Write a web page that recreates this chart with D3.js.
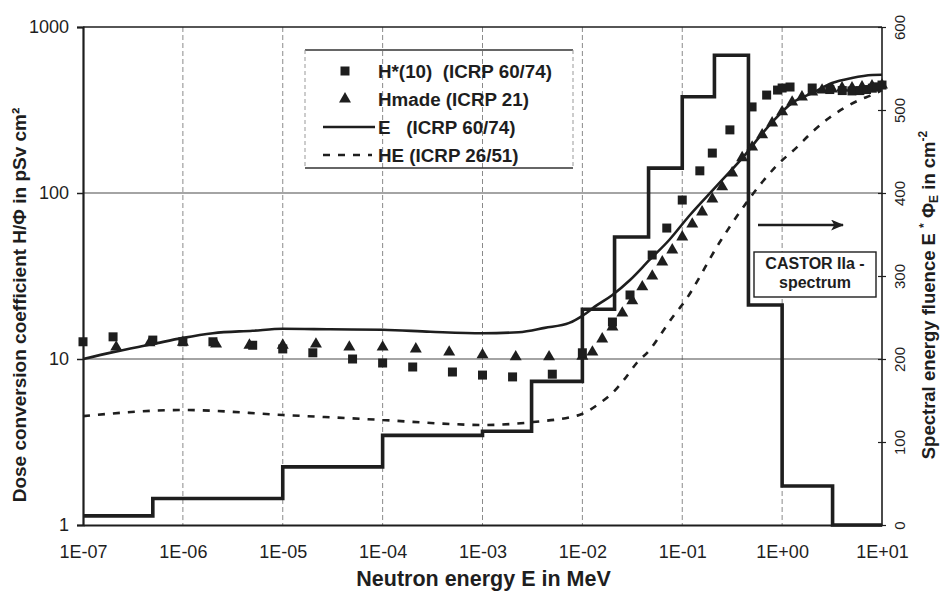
<!DOCTYPE html>
<html>
<head>
<meta charset="utf-8">
<script src="https://cdn.jsdelivr.net/npm/d3@7"></script>
<style>
  html, body { margin: 0; padding: 0; background: #fff; }
  svg { display: block; font-family: "Liberation Sans", Arial, Helvetica, sans-serif; }
</style>
</head>
<body>
<svg id="chart" width="944" height="593"></svg>
<script>
// ---------------- DATA ----------------
const xTickValues = [1e-7, 1e-6, 1e-5, 1e-4, 1e-3, 1e-2, 1e-1, 1, 10];
const xTickLabels = ["1E-07", "1E-06", "1E-05", "1E-04", "1E-03", "1E-02", "1E-01", "1E+00", "1E+01"];
const yLeftTicks = [1, 10, 100, 1000];
const yRightTicks = [0, 100, 200, 300, 400, 500, 600];

// H*(10) (ICRP 60/74) – squares
const hStarE = [1e-7, 2e-7, 5e-7, 1e-6, 2e-6, 5e-6, 1e-5, 2e-5, 5e-5, 1e-4, 2e-4, 5e-4, 1e-3, 2e-3, 5e-3, 1e-2,
                2e-2, 3e-2, 5e-2, 7e-2, 0.1, 0.15, 0.2, 0.3, 0.5, 0.7, 0.9, 1, 1.2, 2, 3, 4, 5, 6, 7, 8, 9, 10];
const hStarV = [12.7, 13.6, 13.0, 12.7, 12.7, 12.1, 11.5, 10.9, 10.0, 9.46, 8.95, 8.35, 8.0, 7.8, 8.1, 10.9,
                16.7, 24.3, 42.3, 61.5, 90.7, 136, 174, 240, 330, 389, 417, 429, 435, 429, 420, 414, 412, 414, 420, 428, 436, 447];

// Hmade (ICRP 21) – triangles
const hmadeE = [2.15e-7, 4.64e-7, 1e-6, 2.15e-6, 4.64e-6, 1e-5, 2.15e-5, 4.64e-5, 1e-4, 2.15e-4, 4.64e-4, 1e-3, 2.15e-3, 4.64e-3,
                1e-2, 1.26e-2, 1.58e-2, 2e-2, 2.51e-2, 3.16e-2, 3.98e-2, 5.01e-2, 6.31e-2, 7.94e-2,
                0.1, 0.126, 0.158, 0.2, 0.251, 0.316, 0.398, 0.501, 0.631, 0.794,
                1, 1.26, 1.58, 2, 2.51, 3.16, 3.98, 5.01, 6.31, 7.94, 10];
const hmadeV = [11.8, 12.5, 12.6, 12.3, 12.1, 12.1, 12.3, 11.8, 11.8, 11.5, 11.0, 10.6, 10.3, 10.3,
                10.4, 11.0, 13.2, 15.6, 18.9, 22.4, 27.2, 31.6, 38.4, 45.4,
                54.3, 65.0, 76.9, 92.0, 109, 132, 163, 189, 224, 264,
                308, 353, 379, 406, 417, 423, 429, 429, 435, 441, 447];

// E (ICRP 60/74) – solid line
const effE = [1e-7, 2e-7, 5e-7, 1e-6, 2e-6, 5e-6, 1e-5, 3e-5, 1e-4, 3e-4, 1e-3, 2.3e-3, 4.2e-3, 7.4e-3, 1e-2,
              1.4e-2, 2e-2, 3e-2, 4.7e-2, 7.4e-2, 0.117, 0.22, 0.44, 0.59, 0.83, 1.26, 2, 3.16, 5, 8, 10];
const effV = [10, 11.0, 12.3, 13.4, 14.3, 14.8, 15.2, 15.1, 15.0, 14.6, 14.3, 14.5, 15.4, 16.5, 18.2,
              21.1, 24.3, 29.9, 39.5, 52.1, 72.7, 110, 174, 217, 275, 349, 400, 460, 493, 514, 516];

// HE (ICRP 26/51) – dashed line
const heE = [1e-7, 1e-6, 1e-5, 1e-4, 4.7e-4, 1e-3, 3.2e-3, 9.3e-3, 1.5e-2, 2e-2, 2.6e-2, 3.5e-2, 4.7e-2, 6.3e-2, 8.3e-2,
             0.1, 0.245, 0.39, 0.63, 0.89, 1.41, 2.0, 2.95, 4.17, 5.9, 7.9, 10];
const heV = [4.53, 4.93, 4.6, 4.29, 4.06, 4.0, 4.17, 4.6, 5.43, 6.24, 7.47, 9.46, 11.3, 14.5, 18.4,
             21.2, 52.1, 79, 116, 147, 189, 233, 283, 325, 363, 389, 417];

// CASTOR IIa spectrum – histogram (right axis)
const binEdges = [1e-7, 5e-7, 1e-5, 1e-4, 1e-3, 3.1e-3, 1e-2, 2.1e-2, 4.6e-2, 0.1, 0.21, 0.46, 1, 3.2, 10];
const binValues = [11, 32, 70, 108, 113, 173, 260, 347, 430, 516, 566, 265, 47, 0];

// ---------------- CHART ----------------
const svg = d3.select("#chart");
const L = 83, R = 882, T = 27, B = 525;

const x = d3.scaleLog().domain([1e-7, 10]).range([L, R]);
const yL = d3.scaleLog().domain([1, 1000]).range([B, T]);
const yR = d3.scaleLinear().domain([0, 600]).range([B, T]);

const ink = "#1e1e1e";

// vertical dashed gridlines
svg.append("g").selectAll("line")
  .data(xTickValues.slice(1, -1))
  .join("line")
  .attr("x1", d => x(d)).attr("x2", d => x(d))
  .attr("y1", T).attr("y2", B)
  .attr("stroke", "#8a8a8a").attr("stroke-width", 1)
  .attr("stroke-dasharray", "5,3");

// horizontal gridlines
svg.append("g").selectAll("line")
  .data([10, 100])
  .join("line")
  .attr("x1", L).attr("x2", R)
  .attr("y1", d => yL(d)).attr("y2", d => yL(d))
  .attr("stroke", "#4a4a4a").attr("stroke-width", 1.2);

// frame
svg.append("line").attr("x1", L).attr("x2", R).attr("y1", T).attr("y2", T).attr("stroke", ink).attr("stroke-width", 1.6);
svg.append("line").attr("x1", R).attr("x2", R).attr("y1", T).attr("y2", B).attr("stroke", ink).attr("stroke-width", 1.6);

// histogram
const histPts = binValues.map((v, i) => [binEdges[i], v]);
histPts.push([binEdges[binEdges.length - 1], binValues[binValues.length - 1]]);
svg.append("path")
  .datum(histPts)
  .attr("fill", "none").attr("stroke", ink).attr("stroke-width", 3.6)
  .attr("stroke-linejoin", "miter")
  .attr("d", d3.line().x(d => x(d[0])).y(d => yR(d[1])).curve(d3.curveStepAfter));

// HE dashed line
svg.append("path")
  .datum(heE.map((e, i) => [e, heV[i]]))
  .attr("fill", "none").attr("stroke", ink).attr("stroke-width", 2.6)
  .attr("stroke-dasharray", "7,8")
  .attr("d", d3.line().x(d => x(d[0])).y(d => yL(d[1])).curve(d3.curveMonotoneX));

// E solid line
svg.append("path")
  .datum(effE.map((e, i) => [e, effV[i]]))
  .attr("fill", "none").attr("stroke", ink).attr("stroke-width", 2.6)
  .attr("d", d3.line().x(d => x(d[0])).y(d => yL(d[1])).curve(d3.curveMonotoneX));

// triangles
const tri = d3.symbol().type(d3.symbolTriangle).size(62);
svg.append("g").selectAll("path")
  .data(hmadeE.map((e, i) => [e, hmadeV[i]]))
  .join("path")
  .attr("d", tri)
  .attr("transform", d => `translate(${x(d[0])},${yL(d[1])})`)
  .attr("fill", ink);

// squares
const sq = 9;
svg.append("g").selectAll("rect")
  .data(hStarE.map((e, i) => [e, hStarV[i]]))
  .join("rect")
  .attr("x", d => x(d[0]) - sq / 2).attr("y", d => yL(d[1]) - sq / 2)
  .attr("width", sq).attr("height", sq)
  .attr("fill", ink);

// bottom axis
const xAxis = d3.axisBottom(x).tickValues(xTickValues)
  .tickFormat((d, i) => xTickLabels[i]).tickSize(0).tickPadding(0);
const gx = svg.append("g").attr("transform", `translate(0,${B})`).call(xAxis);
gx.select(".domain").attr("stroke", ink).attr("stroke-width", 2.2);
gx.selectAll("text").attr("font-size", 18).attr("fill", ink).attr("dy", null).attr("y", 33);

// left axis
const yAxisL = d3.axisLeft(yL).tickValues(yLeftTicks).tickFormat(d3.format("d")).tickSize(6).tickPadding(8);
const gyl = svg.append("g").attr("transform", `translate(${L},0)`).call(yAxisL);
gyl.select(".domain").attr("stroke", ink).attr("stroke-width", 2.2);
gyl.selectAll(".tick line").attr("stroke", ink).attr("stroke-width", 1.5);
gyl.selectAll("text").attr("font-size", 18).attr("fill", ink);

// right axis
const yAxisR = d3.axisRight(yR).tickValues(yRightTicks).tickSize(4).tickFormat(d3.format("d"));
const gyr = svg.append("g").attr("transform", `translate(${R},0)`).call(yAxisR);
gyr.select(".domain").remove();
gyr.selectAll(".tick line").attr("stroke", ink).attr("stroke-width", 1.2).attr("x1", -4);
gyr.selectAll(".tick text")
  .attr("font-size", 15).attr("fill", ink)
  .attr("x", null).attr("dy", null)
  .attr("text-anchor", "middle")
  .attr("transform", "translate(23,0) rotate(-90)");

// axis titles
svg.append("text")
  .attr("x", (L + R) / 2 + 1).attr("y", 586)
  .attr("text-anchor", "middle")
  .attr("font-size", 21.5).attr("font-weight", "bold").attr("fill", ink)
  .text("Neutron energy E in MeV");

svg.append("text")
  .attr("transform", "translate(26,305) rotate(-90)")
  .attr("text-anchor", "middle")
  .attr("font-size", 19).attr("font-weight", "bold").attr("fill", ink)
  .text("Dose conversion coefficient H/Φ in pSv cm²");

const rt = svg.append("text")
  .attr("transform", "translate(935,295) rotate(-90)")
  .attr("text-anchor", "middle")
  .attr("font-size", 18.5).attr("font-weight", "bold").attr("fill", ink);
rt.append("tspan").text("Spectral energy fluence E ");
rt.append("tspan").attr("font-size", 12).attr("dy", -7).text("*");
rt.append("tspan").attr("dy", 7).text(" Φ");
rt.append("tspan").attr("font-size", 12).attr("dy", 3).text("E");
rt.append("tspan").attr("dy", -3).text(" in cm");
rt.append("tspan").attr("font-size", 12).attr("dy", -8).text("-2");

// legend
const lg = svg.append("g");
lg.append("line").attr("x1", 305).attr("x2", 573).attr("y1", 50).attr("y2", 50).attr("stroke", "#333").attr("stroke-width", 1.4);
lg.append("line").attr("x1", 305).attr("x2", 573).attr("y1", 168).attr("y2", 168).attr("stroke", "#333").attr("stroke-width", 1.4);
lg.append("line").attr("x1", 305).attr("x2", 305).attr("y1", 50).attr("y2", 168).attr("stroke", "#999").attr("stroke-width", 1).attr("stroke-dasharray", "4,3");
lg.append("line").attr("x1", 573).attr("x2", 573).attr("y1", 50).attr("y2", 168).attr("stroke", "#999").attr("stroke-width", 1).attr("stroke-dasharray", "4,3");

const legendLabels = ["H*(10)  (ICRP 60/74)", "Hmade (ICRP 21)", "E   (ICRP 60/74)", "HE (ICRP 26/51)"];
const legendY = [71, 99, 127, 155];
lg.append("rect").attr("x", 345 - 4.5).attr("y", legendY[0] - 4.5).attr("width", 9).attr("height", 9).attr("fill", ink);
lg.append("path").attr("d", tri).attr("transform", `translate(345,${legendY[1]})`).attr("fill", ink);
lg.append("line").attr("x1", 323).attr("x2", 375).attr("y1", legendY[2]).attr("y2", legendY[2]).attr("stroke", ink).attr("stroke-width", 2.6);
lg.append("line").attr("x1", 323).attr("x2", 372).attr("y1", legendY[3]).attr("y2", legendY[3]).attr("stroke", ink).attr("stroke-width", 2.6).attr("stroke-dasharray", "7,8");
lg.selectAll("text.lbl")
  .data(legendLabels)
  .join("text")
  .attr("class", "lbl")
  .attr("x", 378).attr("y", (d, i) => legendY[i] + 6.5)
  .attr("font-size", 18.8).attr("font-weight", "bold").attr("fill", ink)
  .attr("xml:space", "preserve").style("white-space", "pre")
  .text(d => d);

// arrow
svg.append("defs").append("marker")
  .attr("id", "ah").attr("viewBox", "0 0 12 10").attr("refX", 11).attr("refY", 5)
  .attr("markerWidth", 13).attr("markerHeight", 11).attr("markerUnits", "userSpaceOnUse")
  .attr("orient", "auto")
  .append("path").attr("d", "M0,0 L12,5 L0,10 L3,5 Z").attr("fill", ink);
svg.append("line").attr("x1", 758).attr("x2", 843).attr("y1", 225).attr("y2", 225)
  .attr("stroke", ink).attr("stroke-width", 2.4).attr("marker-end", "url(#ah)");

// CASTOR box
svg.append("rect").attr("x", 754).attr("y", 252).attr("width", 122).attr("height", 45)
  .attr("fill", "#fff").attr("stroke", ink).attr("stroke-width", 1.4);
svg.append("text").attr("x", 815).attr("y", 269).attr("text-anchor", "middle")
  .attr("font-size", 16).attr("font-weight", "bold").attr("fill", ink).text("CASTOR IIa -");
svg.append("text").attr("x", 815).attr("y", 288).attr("text-anchor", "middle")
  .attr("font-size", 16).attr("font-weight", "bold").attr("fill", ink).text("spectrum");
</script>
</body>
</html>
